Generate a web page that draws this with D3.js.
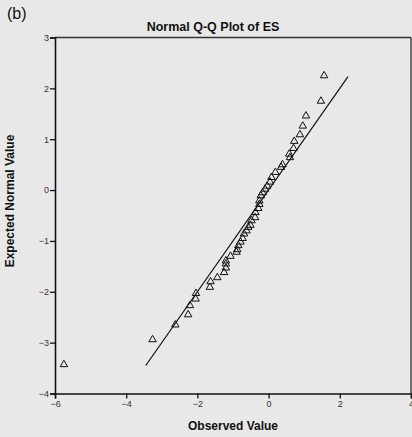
<!DOCTYPE html>
<html>
<head>
<meta charset="utf-8">
<script src="https://cdn.jsdelivr.net/npm/d3@7"></script>
<style>
  body { margin: 0; background: #e8e8e8; }
  svg { display: block; font-family: "Liberation Sans", Arial, sans-serif; }
</style>
</head>
<body>
<svg id="chart" width="412" height="437"></svg>
<script>
const observed = [-5.75, -3.26, -2.62, -2.26, -2.21, -2.05, -2.04, -1.65, -1.63, -1.44,
  -1.25, -1.20, -1.20, -1.20, -1.07, -0.90, -0.88, -0.85, -0.79, -0.73,
  -0.69, -0.62, -0.57, -0.51, -0.48, -0.38, -0.37, -0.29, -0.26, -0.26,
  -0.22, -0.17, -0.10, -0.04, 0.04, 0.08, 0.19, 0.35, 0.39, 0.60,
  0.58, 0.70, 0.72, 0.88, 0.96, 1.05, 1.47, 1.56]
const expected = [-3.43, -2.94, -2.65, -2.45, -2.27, -2.14, -2.03, -1.91, -1.80, -1.72,
  -1.62, -1.53, -1.45, -1.39, -1.30, -1.22, -1.17, -1.09, -1.02, -0.95,
  -0.86, -0.80, -0.73, -0.69, -0.60, -0.54, -0.44, -0.36, -0.28, -0.21,
  -0.11, -0.05, 0.02, 0.08, 0.16, 0.25, 0.35, 0.45, 0.50, 0.64,
  0.71, 0.82, 0.96, 1.09, 1.26, 1.46, 1.75, 2.25]
const refLine = [-3.45, 2.23]  // y = x reference line
const xTicks = [-6, -4, -2, 0, 2, 4]
const yTicks = [3, 2, 1, 0, -1, -2, -3, -4]

const svg = d3.select('#chart')
const pLeft = 55, pRight = 411, pTop = 37.5, pBottom = 393.5

const x = d3.scaleLinear().domain([-6, 4]).range([pLeft, pRight])
const y = d3.scaleLinear().domain([-4, 3]).range([pBottom, pTop])

svg.append('text').attr('x', 7).attr('y', 19)
  .attr('font-size', 16).attr('fill', '#111').text('(b)')

svg.append('text').attr('x', 213).attr('y', 31)
  .attr('text-anchor', 'middle').attr('font-size', 12.5).attr('font-weight', 'bold')
  .attr('fill', '#111').text('Normal Q-Q Plot of ES')

// frame top / right
svg.append('line').attr('x1', pLeft).attr('x2', pRight).attr('y1', pTop).attr('y2', pTop)
  .attr('stroke', '#333').attr('stroke-width', 1.3)
svg.append('line').attr('x1', pRight).attr('x2', pRight).attr('y1', pTop).attr('y2', pBottom)
  .attr('stroke', '#333').attr('stroke-width', 1.3)

const xAxis = svg.append('g').attr('transform', `translate(0,${pBottom})`)
  .call(d3.axisBottom(x).tickValues(xTicks).tickSize(5).tickPadding(2).tickFormat(d3.format('d')))
const yAxis = svg.append('g').attr('transform', `translate(${pLeft},0)`)
  .call(d3.axisLeft(y).tickValues(yTicks).tickSize(5).tickPadding(1).tickFormat(d3.format('d')))

for (const g of [xAxis, yAxis]) {
  g.select('.domain').attr('stroke', '#111').attr('stroke-width', 1.6)
  g.selectAll('.tick line').attr('stroke', '#111').attr('stroke-width', 1.3)
  g.selectAll('.tick text').attr('font-size', 9).attr('fill', '#333')
    .attr('font-family', '"Liberation Sans", Arial, sans-serif')
}

svg.append('text').attr('x', 233).attr('y', 430)
  .attr('text-anchor', 'middle').attr('font-size', 12).attr('font-weight', 'bold')
  .attr('fill', '#111').text('Observed Value')

svg.append('text').attr('transform', 'translate(14,201) rotate(-90)')
  .attr('text-anchor', 'middle').attr('font-size', 12).attr('font-weight', 'bold')
  .attr('fill', '#111').text('Expected Normal Value')

svg.append('line')
  .attr('x1', x(refLine[0])).attr('y1', y(refLine[0]))
  .attr('x2', x(refLine[1])).attr('y2', y(refLine[1]))
  .attr('stroke', '#111').attr('stroke-width', 1.2)

const tri = d3.symbol().type(d3.symbolTriangle).size(24)
svg.append('g').selectAll('path')
  .data(observed.map((v, i) => [v, expected[i]]))
  .join('path')
  .attr('d', tri)
  .attr('transform', d => `translate(${x(d[0])},${y(d[1])})`)
  .attr('fill', 'none')
  .attr('stroke', '#111')
  .attr('stroke-width', 1)
</script>
</body>
</html>
